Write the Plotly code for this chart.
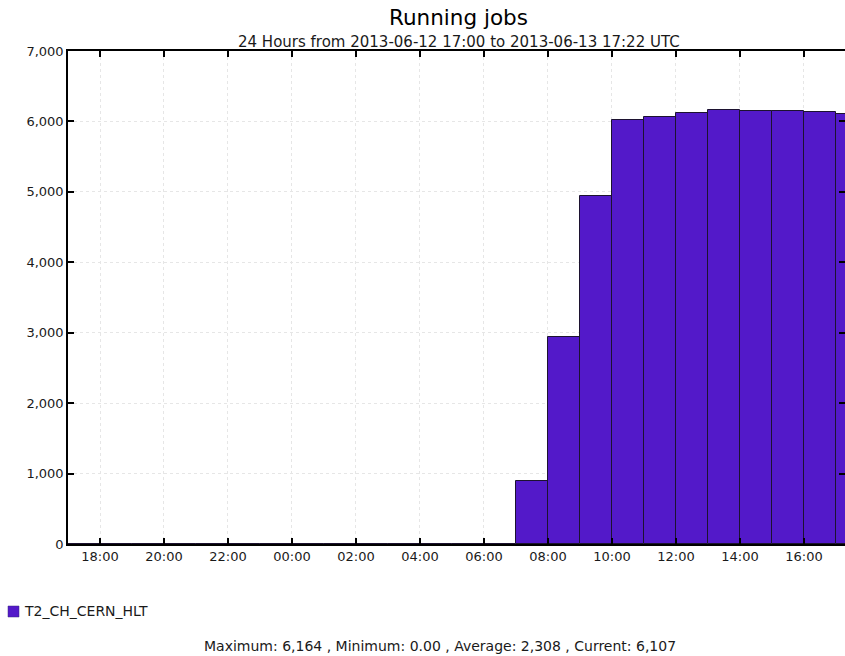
import plotly.graph_objects as go
import pandas as pd

# Hourly bins from 2013-06-12 17:00 to 2013-06-13 17:00
bin_starts = [str(t) for t in pd.date_range("2013-06-12 17:00", "2013-06-13 17:00", freq="h")]
running_jobs = [0, 0, 0, 0, 0, 0, 0, 0, 0, 0, 0, 0, 0, 0,
                895, 2939, 4941, 6020, 6067, 6115, 6164, 6148, 6150, 6134, 6107]
series_name = "T2_CH_CERN_HLT"
title_text = "Running jobs"
subtitle_text = "24 Hours from 2013-06-12 17:00 to 2013-06-13 17:22 UTC"
footer_text = "Maximum: 6,164 , Minimum: 0.00 , Average: 2,308 , Current: 6,107"

FONT = "DejaVu Sans"
TXT = "#1a1a1a"
BAR_COLOR = "#5319C9"
L, R, T, B = 68, 0, 51, 112
W, H = 845, 656
PW, PH = W - L - R, H - T - B


def px(xp):
    return (xp - L) / PW


def py(yp):
    return (H - B - yp) / PH


fig = go.Figure()
fig.add_trace(go.Bar(
    x=bin_starts, y=running_jobs, name=series_name,
    width=3600 * 1000, offset=0,
    marker=dict(color=BAR_COLOR, line=dict(color="#1c1230", width=1)),
    showlegend=False,
))

# legend key drawn as a small square and label below the plot
fig.add_shape(type="rect", xref="paper", yref="paper",
              x0=px(8), x1=px(19), y0=py(617), y1=py(606),
              fillcolor=BAR_COLOR, line=dict(color="#3a2a80", width=0.5))

fig.update_layout(
    width=W, height=H,
    margin=dict(l=L, r=R, t=T, b=B, autoexpand=False),
    paper_bgcolor="white", plot_bgcolor="white",
    font=dict(family=FONT, size=13, color=TXT),
    bargap=0,
    showlegend=False,
    annotations=[
        dict(text=title_text, xref="paper", yref="paper", x=px(458), y=py(18),
             xanchor="center", yanchor="middle", showarrow=False,
             font=dict(size=21.5, family=FONT, color="#000000")),
        dict(text=subtitle_text, xref="paper", yref="paper", x=px(459), y=py(42),
             xanchor="center", yanchor="middle", showarrow=False,
             font=dict(size=15, family=FONT, color=TXT)),
        dict(text=series_name, xref="paper", yref="paper", x=px(22), y=py(611),
             xanchor="left", yanchor="middle", showarrow=False,
             font=dict(size=14, family=FONT, color=TXT)),
        dict(text=footer_text, xref="paper", yref="paper", x=px(440), y=py(646),
             xanchor="center", yanchor="middle", showarrow=False,
             font=dict(size=14, family=FONT, color=TXT)),
    ],
)

fig.update_xaxes(
    type="date", range=["2013-06-12 17:00", "2013-06-13 17:17"],
    tickformat="%H:%M", dtick=2 * 3600 * 1000, tick0="2013-06-12 18:00",
    ticks="inside", ticklen=6, tickwidth=2, tickcolor="black",
    showline=True, linecolor="black", linewidth=1.5, mirror="allticks",
    showgrid=True, gridcolor="#e6e6e6", griddash="dot", gridwidth=1,
    tickfont=dict(size=13, family=FONT, color=TXT), zeroline=False,
)
fig.update_yaxes(
    range=[0, 7000], dtick=1000, tickformat=",",
    ticks="inside", ticklen=6, tickwidth=2, tickcolor="black",
    showline=True, linecolor="black", linewidth=1.5, mirror="allticks",
    showgrid=True, gridcolor="#e6e6e6", griddash="dot", gridwidth=1,
    tickfont=dict(size=13, family=FONT, color=TXT), zeroline=False,
)

fig.write_html("out.html", config={"displayModeBar": False},
               post_script="document.body.style.margin='0';document.body.style.overflow='hidden';")
